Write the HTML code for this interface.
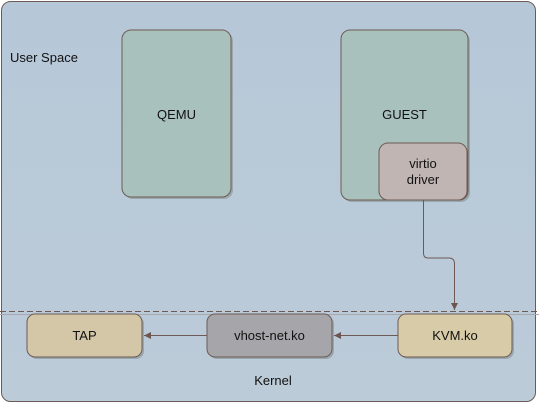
<!DOCTYPE html>
<html><head><style>body{margin:0;background:#fff}svg{display:block}text{font-family:"Liberation Sans",sans-serif;font-size:13px;fill:#111}</style></head><body>
<svg width="539" height="405" viewBox="0 0 539 405">
<defs><linearGradient id="bg" x1="0" y1="0" x2="0" y2="1"><stop offset="0" stop-color="#b6c8d8"/><stop offset="1" stop-color="#bccbd8"/></linearGradient>
<marker id="ar" markerWidth="8" markerHeight="8" refX="7" refY="4" orient="auto" markerUnits="userSpaceOnUse"><path d="M0,0.5 L7,4 L0,7.5z" fill="#6e5650"/></marker></defs>
<rect x="1.5" y="1.5" width="534" height="400" rx="9" fill="url(#bg)" stroke="#6e5a55"/>
<g stroke="#6e5a55" stroke-width="1">
<rect x="124" y="32" width="109" height="167" rx="9" fill="#9aa8ad" stroke="none"/>
<rect x="122" y="30" width="109" height="167" rx="9" fill="#a9c1bc"/>
<rect x="343" y="32" width="127" height="170" rx="9" fill="#9aa8ad" stroke="none"/>
<rect x="341" y="30" width="127" height="170" rx="9" fill="#a9c1bc"/>
<rect x="379" y="143" width="88" height="57" rx="9" fill="#c0b5b2"/>
<path d="M423.5 200 V253 Q423.5 258 428 258 H449 Q454.5 258 454.5 264 V310" fill="none" marker-end="url(#ar)"/>
<line x1="0" y1="311.5" x2="539" y2="311.5" stroke-dasharray="6,3"/>
<line x1="0" y1="314.5" x2="539" y2="314.5" stroke="#a6a8ad"/>
<rect x="29" y="316" width="115" height="43" rx="8" fill="#9aa8ad" stroke="none"/>
<rect x="27" y="314" width="115" height="43" rx="8" fill="#d3c7a8"/>
<rect x="209" y="316" width="125" height="43" rx="8" fill="#9aa8ad" stroke="none"/>
<rect x="207" y="314" width="125" height="43" rx="8" fill="#a6a6aa"/>
<rect x="400" y="316" width="114" height="43" rx="8" fill="#9aa8ad" stroke="none"/>
<rect x="398" y="314" width="114" height="43" rx="8" fill="#d8cba8"/>
<line x1="398" y1="335.5" x2="334" y2="335.5" marker-end="url(#ar)"/>
<line x1="207" y1="335.5" x2="144" y2="335.5" marker-end="url(#ar)"/>
</g>
<text x="10" y="62">User Space</text>
<text x="176.5" y="119" text-anchor="middle">QEMU</text>
<text x="404.5" y="119" text-anchor="middle">GUEST</text>
<text x="423" y="168" text-anchor="middle" font-size="12">virtio</text>
<text x="423" y="184" text-anchor="middle" font-size="12">driver</text>
<text x="84.5" y="340" text-anchor="middle">TAP</text>
<text x="269.5" y="340" text-anchor="middle">vhost-net.ko</text>
<text x="455" y="340" text-anchor="middle">KVM.ko</text>
<text x="273" y="385" text-anchor="middle">Kernel</text>
</svg>
</body></html>
